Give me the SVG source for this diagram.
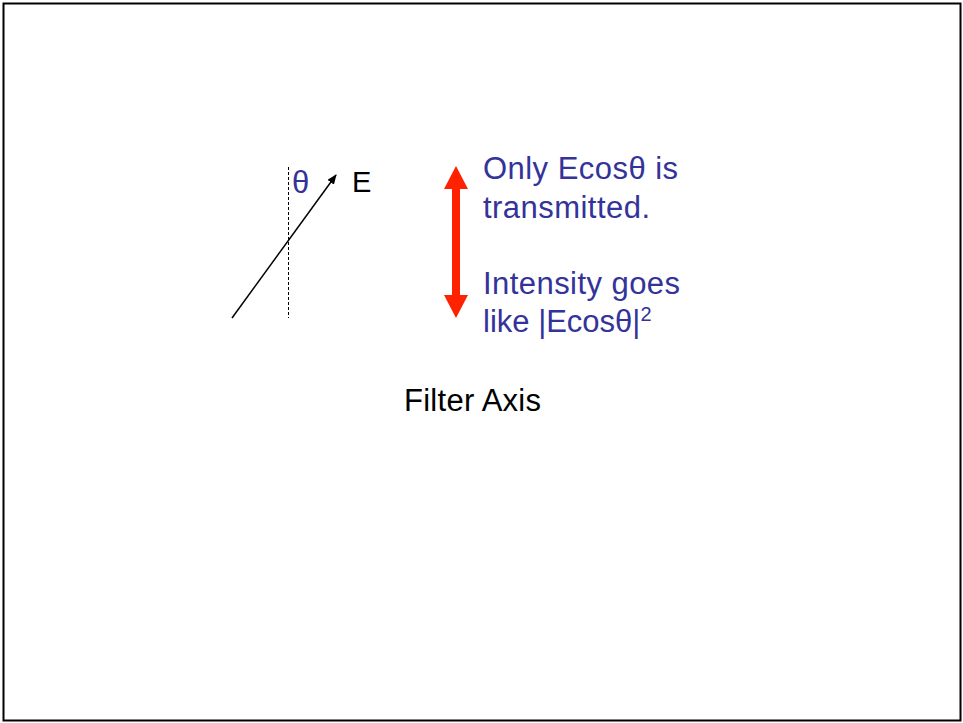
<svg xmlns="http://www.w3.org/2000/svg" width="963" height="723" viewBox="0 0 963 723">
<style>
.t{font-family:"Liberation Sans",Arial,sans-serif;font-size:31px}
.b{fill:#333399}
.k{fill:#000}
</style>
<defs>
<marker id="ah" markerWidth="10" markerHeight="8" refX="9" refY="4" orient="auto" markerUnits="userSpaceOnUse">
<path d="M0,0 L10,4 L0,8 Z" fill="#000"/>
</marker>
</defs>
<rect x="3.5" y="3.5" width="957" height="717" fill="#fff" stroke="#000" stroke-width="2"/>
<g id="connectors">
<line x1="288.5" y1="167" x2="288.5" y2="318" stroke="#000" stroke-width="1" stroke-dasharray="3,2"/>
<line x1="232" y1="318" x2="336" y2="175" stroke="#000" stroke-width="1.5" marker-end="url(#ah)"/>
<path id="filter-arrow" d="M456,166 L468,189 L460,189 L460,295 L468,295 L456,318 L444,295 L452,295 L452,189 L444,189 Z" fill="#ff2200"/>
</g>
<g id="theta"><text class="t b" x="292" y="193" style="font-size:31px">θ</text></g>
<g id="E"><text class="t k" x="352" y="192" style="font-size:29px">E</text></g>
<g id="desc">
<text class="t b" x="483" y="179" textLength="195">Only Ecosθ is</text>
<text class="t b" x="483" y="218" textLength="167">transmitted.</text>
<text class="t b" x="483" y="294" textLength="197">Intensity goes</text>
<text class="t b" x="483" y="332">like |Ecosθ|<tspan dy="-11" style="font-size:20px">2</tspan></text>
</g>
<g id="filter-axis"><text class="t k" x="404" y="411" textLength="137">Filter Axis</text></g>
</svg>
